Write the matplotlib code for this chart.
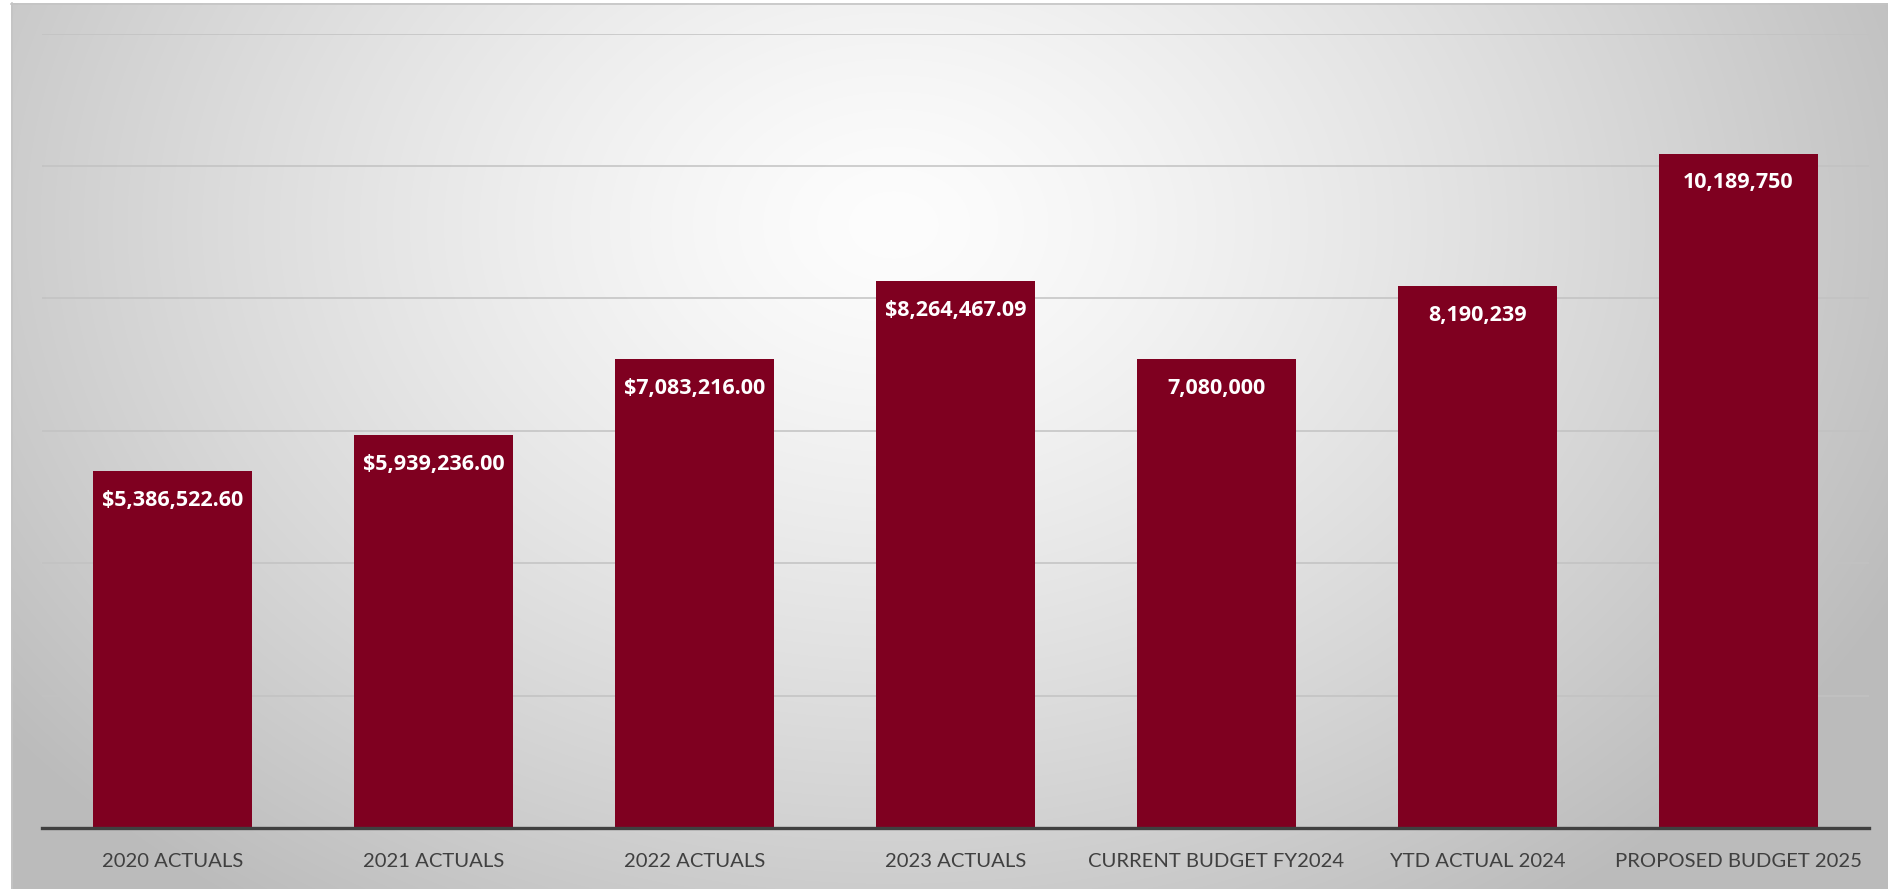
import numpy as np
import matplotlib
matplotlib.use("Agg")
import matplotlib.pyplot as plt

categories = ["2020 ACTUALS", "2021 ACTUALS", "2022 ACTUALS", "2023 ACTUALS",
              "CURRENT BUDGET FY2024", "YTD ACTUAL 2024", "PROPOSED BUDGET 2025"]
values = [5386522.60, 5939236.00, 7083216.00, 8264467.09,
          7080000, 8190239, 10189750]
label_formats = ["${:,.2f}", "${:,.2f}", "${:,.2f}", "${:,.2f}",
                 "{:,.0f}", "{:,.0f}", "{:,.0f}"]
grid_values = [2e6, 4e6, 6e6, 8e6, 10e6, 12e6]

W, H = 1888, 889
fig = plt.figure(figsize=(W / 100, H / 100), dpi=100)
fig.patch.set_facecolor("white")

# background panel with a soft radial gradient
bg = fig.add_axes([0, 0, 1, 1])
bg.set_xlim(0, W)
bg.set_ylim(H, 0)
bg.axis("off")
px0, py0 = 11, 3
gw, gh = W - px0, H - py0
yy, xx = np.mgrid[0:gh, 0:gw]
cx, cy = 0.47 * gw, 0.25 * gh
r = np.sqrt(((xx - cx) / (0.60 * gw)) ** 2 + ((yy - cy) / (0.95 * gh)) ** 2)
r = np.clip(r, 0, 1)
lum = 253 - 66 * r ** 1.3
img = np.dstack([lum, lum, lum]) / 255.0
bg.imshow(img, extent=(px0, W, H, py0), aspect="auto", interpolation="bilinear")
bg.plot([px0, W], [py0 + 0.5, py0 + 0.5], color="#c4c4c4", lw=1.2)
bg.plot([px0 + 0.5, px0 + 0.5], [py0, H], color="#c4c4c4", lw=1.2)

# chart area
left, right = 42, 1869
top, bottom = 33.7, 828
ax = fig.add_axes([left / W, 1 - bottom / H, (right - left) / W, (bottom - top) / H])
ax.set_facecolor("none")
ax.set_xlim(-0.5, len(categories) - 0.5)
ax.set_ylim(0, 12e6)

for g in grid_values:
    ax.axhline(g, color="#c2c2c2", lw=1.1, zorder=0)

x = np.arange(len(categories))
bars = ax.bar(x, values, width=0.61, color="#7F0020", zorder=2)

for xi, v, fmt in zip(x, values, label_formats):
    ax.annotate(fmt.format(v), xy=(xi, v), xytext=(0, -21), textcoords="offset points",
                ha="center", va="center", color="white", fontsize=15.5,
                fontweight="bold", family="Open Sans", zorder=3)

for side in ["top", "left", "right"]:
    ax.spines[side].set_visible(False)
ax.spines["bottom"].set_color("#404040")
ax.spines["bottom"].set_linewidth(2.4)
ax.spines["bottom"].set_zorder(4)
ax.set_yticks([])
ax.set_xticks(x)
ax.set_xticklabels(categories, fontsize=14.6, color="#404040", family="Lato")
ax.tick_params(axis="x", length=0, pad=18)

fig.savefig("out.png", dpi=100)
